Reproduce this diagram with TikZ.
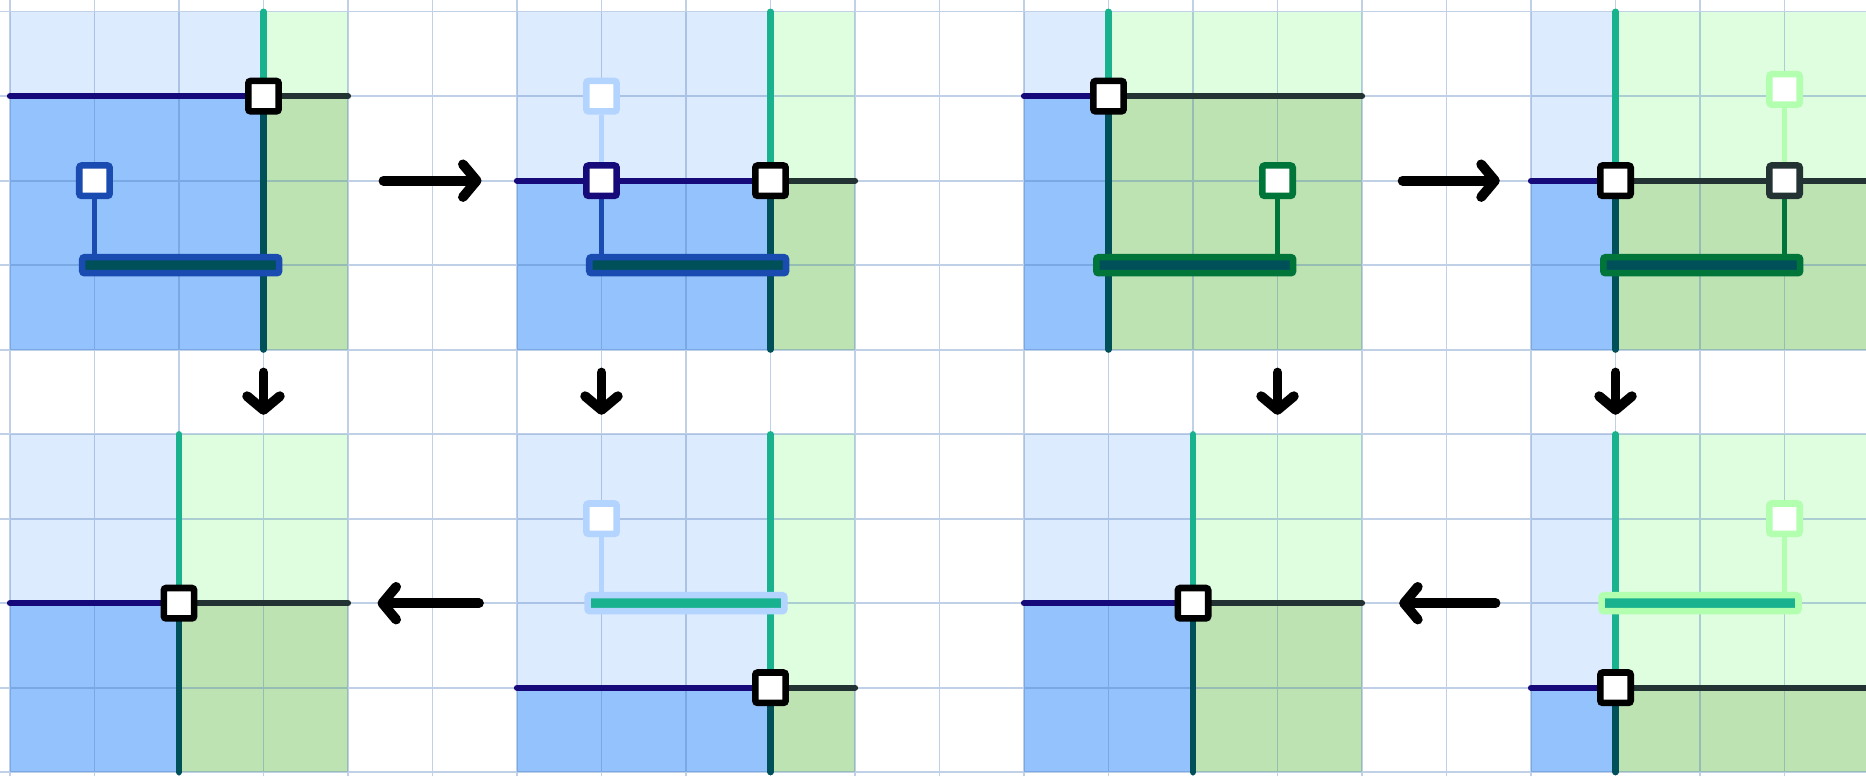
\documentclass[tikz,border=0pt]{standalone}
\usetikzlibrary{arrows.meta}
\definecolor{lblue}{HTML}{DCEBFE}
\definecolor{dblue}{HTML}{94C2FC}
\definecolor{lgreen}{HTML}{DFFDDF}
\definecolor{mgreen}{HTML}{BEE3B3}
\definecolor{myteal}{HTML}{18B28F}
\definecolor{dteal}{HTML}{00505A}
\definecolor{mynavy}{HTML}{160A7A}
\definecolor{dgray}{HTML}{233232}
\definecolor{bblue}{HTML}{1A4BB0}
\definecolor{bgreen}{HTML}{00753A}
\definecolor{pblue}{HTML}{B3D4FF}
\definecolor{pgreen}{HTML}{B3FFB0}
\definecolor{gridc}{HTML}{4A78B8}
\pgfdeclarelayer{bg}\pgfdeclarelayer{mid}\pgfsetlayers{bg,mid,main}
\newcommand\panelbase[3]{%
  \begin{pgfonlayer}{bg}
    \fill[lblue] (0,0) rectangle (#2,-#3);
    \fill[lgreen] (#2,0) rectangle (4,-#3);
    \fill[dblue] (0,-#3) rectangle (#2,-4);
    \fill[mgreen] (#2,-#3) rectangle (4,-4);
  \end{pgfonlayer}
  \node[sq] (#1c) at (#2,-#3) {};
  \coordinate (#1l) at (0,-#3);
  \coordinate (#1r) at (4,-#3);
  \coordinate (#1t) at (#2,0);
  \coordinate (#1b) at (#2,-4);
  \begin{pgfonlayer}{mid}
    \draw[bnd,mynavy] (#1l) -- (#1c.center);
    \draw[bnd,dgray] (#1c.center) -- (#1r);
    \draw[bnd,myteal] (#1t) -- (#1c.center);
    \draw[bnd,dteal] (#1c.center) -- (#1b);
  \end{pgfonlayer}}
\begin{document}
\begin{tikzpicture}[
  gridline/.style={draw=gridc, draw opacity=.35, line width=0.55pt},
  bnd/.style={line width=2.1pt, line cap=round},
  stem/.style={line width=1.9pt},
  sq/.style={rectangle, draw=black, fill=white, line width=2.2pt, minimum size=0.36cm, inner sep=0pt, rounded corners=0.8pt},
  bar/.style={rectangle, line width=2.2pt, minimum width=2.33cm, minimum height=0.19cm, inner sep=0pt, rounded corners=0.8pt},
  flow/.style={line width=3.3pt, line cap=round, -{Straight Barb[length=4.6pt,width=11pt,round]}}
]
\useasboundingbox (-0.118,0.138) rectangle (21.964,-9.045);

% panel 1
\begin{scope}
  \panelbase{p1}{3}{1}
  \node[sq, draw=bblue] (p1h) at (1,-2) {};
  \node[bar, draw=bblue, fill=dteal] (p1bar) at (2.02,-3) {};
  \begin{pgfonlayer}{mid}
    \draw[stem,bblue] (p1h) -- (p1h |- p1bar);
  \end{pgfonlayer}
\end{scope}

% panel 2
\begin{scope}[shift={(6,0)}]
  \panelbase{p2}{3}{2}
  \node[sq, draw=pblue] (p2g) at (1,-1) {};
  \node[sq, draw=mynavy] (p2h) at (1,-2) {};
  \node[bar, draw=bblue, fill=dteal] (p2bar) at (2.02,-3) {};
  \begin{pgfonlayer}{mid}
    \draw[stem,pblue] (p2g) -- (p2h);
    \draw[stem,bblue] (p2h) -- (p2h |- p2bar);
  \end{pgfonlayer}
\end{scope}

% panel 3
\begin{scope}[shift={(12,0)}]
  \panelbase{p3}{1}{1}
  \node[sq, draw=bgreen] (p3h) at (3,-2) {};
  \node[bar, draw=bgreen, fill=dteal] (p3bar) at (2.02,-3) {};
  \begin{pgfonlayer}{mid}
    \draw[stem,bgreen] (p3h) -- (p3h |- p3bar);
  \end{pgfonlayer}
\end{scope}

% panel 4
\begin{scope}[shift={(18,0)}]
  \panelbase{p4}{1}{2}
  \node[sq, draw=pgreen] (p4g) at (3,-0.92) {};
  \node[sq, draw=dgray] (p4h) at (3,-2) {};
  \node[bar, draw=bgreen, fill=dteal] (p4bar) at (2.02,-3) {};
  \begin{pgfonlayer}{mid}
    \draw[stem,pgreen] (p4g) -- (p4h);
    \draw[stem,bgreen] (p4h) -- (p4h |- p4bar);
  \end{pgfonlayer}
\end{scope}

% panel 5
\begin{scope}[shift={(0,-5)}]
  \panelbase{p5}{2}{2}
\end{scope}

% panel 6
\begin{scope}[shift={(6,-5)}]
  \panelbase{p6}{3}{3}
  \node[sq, draw=pblue] (p6g) at (1,-1) {};
  \node[bar, draw=pblue, fill=myteal] (p6bar) at (2.0,-2) {};
  \begin{pgfonlayer}{mid}
    \draw[stem,pblue] (p6g) -- (p6g |- p6bar);
  \end{pgfonlayer}
\end{scope}

% panel 7
\begin{scope}[shift={(12,-5)}]
  \panelbase{p7}{2}{2}
\end{scope}

% panel 8
\begin{scope}[shift={(18,-5)}]
  \panelbase{p8}{1}{3}
  \node[sq, draw=pgreen] (p8g) at (3,-1) {};
  \node[bar, draw=pgreen, fill=myteal] (p8bar) at (2.0,-2) {};
  \begin{pgfonlayer}{mid}
    \draw[stem,pgreen] (p8g) -- (p8g |- p8bar);
  \end{pgfonlayer}
\end{scope}

% grid
\begin{pgfonlayer}{bg}
  \draw[gridline] (-0.118,0.138) grid (21.964,-9.045);
\end{pgfonlayer}

% flow arrows
\coordinate (r1s) at (4.42,-2); \coordinate (r1e) at (5.58,-2);
\coordinate (r2s) at (16.48,-2); \coordinate (r2e) at (17.63,-2);
\coordinate (l1s) at (5.55,-7); \coordinate (l1e) at (4.35,-7);
\coordinate (l2s) at (17.58,-7); \coordinate (l2e) at (16.44,-7);
\coordinate (d1s) at (3,-4.27); \coordinate (d1e) at (3,-4.77);
\coordinate (d2s) at (7,-4.27); \coordinate (d2e) at (7,-4.77);
\coordinate (d3s) at (15,-4.27); \coordinate (d3e) at (15,-4.77);
\coordinate (d4s) at (19,-4.27); \coordinate (d4e) at (19,-4.77);
\draw[flow] (r1s) -- (r1e);
\draw[flow] (r2s) -- (r2e);
\draw[flow] (l1s) -- (l1e);
\draw[flow] (l2s) -- (l2e);
\draw[flow] (d1s) -- (d1e);
\draw[flow] (d2s) -- (d2e);
\draw[flow] (d3s) -- (d3e);
\draw[flow] (d4s) -- (d4e);
\end{tikzpicture}
\end{document}
